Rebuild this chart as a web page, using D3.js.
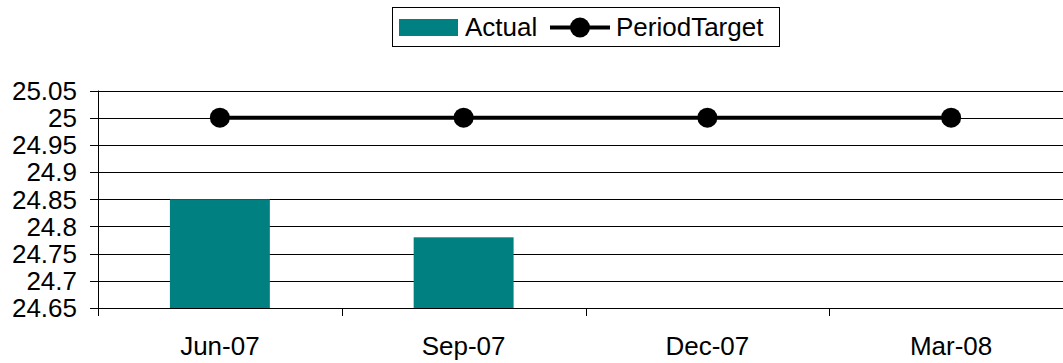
<!DOCTYPE html>
<html>
<head>
<meta charset="utf-8">
<script src="https://cdn.jsdelivr.net/npm/d3@7"></script>
<style>
html,body{margin:0;padding:0;background:#fff;overflow:hidden;}
svg{display:block;font-family:"Liberation Sans",Arial,sans-serif;}
</style>
</head>
<body>
<svg id="chart" width="1063" height="363"></svg>
<script>
const categories = ["Jun-07", "Sep-07", "Dec-07", "Mar-08"];
const actual = [24.85, 24.78, null, null];
const periodTarget = [25, 25, 25, 25];
const yTicks = [24.65, 24.7, 24.75, 24.8, 24.85, 24.9, 24.95, 25, 25.05];
const yTickLabels = ["24.65", "24.7", "24.75", "24.8", "24.85", "24.9", "24.95", "25", "25.05"];

(function () {
const svg = d3.select("#chart");
const pLeft = 98, pRight = 1073, pTop = 90.5, pBottom = 308;
const fs = 26;

const x = d3.scaleBand().domain(categories).range([pLeft, pRight]).padding(0);
const y = d3.scaleLinear().domain([24.65, 25.05]).range([pBottom, pTop]);
const barW = x.bandwidth() * 0.41;

const crisp = v => Math.round(v) + 0.5;

// gridlines + y ticks
const g = svg.append("g");
g.selectAll("line.grid").data(yTicks).join("line")
  .attr("x1", pLeft - 8).attr("x2", pRight)
  .attr("y1", d => crisp(y(d))).attr("y2", d => crisp(y(d)))
  .attr("stroke", "#000").attr("stroke-width", 1);

g.selectAll("text.ylab").data(yTicks).join("text")
  .attr("x", 77).attr("y", d => y(d))
  .attr("dy", "0.36em")
  .attr("text-anchor", "end")
  .attr("font-size", fs)
  .attr("fill", "#000")
  .text((d, i) => yTickLabels[i]);

// bars
svg.append("g").selectAll("rect").data(categories.map((c, i) => ({c, v: actual[i]})).filter(d => d.v != null))
  .join("rect")
  .attr("x", d => x(d.c) + (x.bandwidth() - barW) / 2)
  .attr("width", barW)
  .attr("y", d => y(d.v))
  .attr("height", d => y(24.65) - y(d.v))
  .attr("fill", "#008080");

// axes lines
svg.append("line").attr("x1", crisp(pLeft)).attr("x2", crisp(pLeft))
  .attr("y1", pTop).attr("y2", pBottom + 8).attr("stroke", "#000");
svg.append("line").attr("x1", pLeft).attr("x2", pRight)
  .attr("y1", crisp(pBottom)).attr("y2", crisp(pBottom)).attr("stroke", "#000");

// x ticks at category boundaries
const bounds = categories.map(c => x(c)).concat([pRight]);
svg.append("g").selectAll("line").data(bounds).join("line")
  .attr("x1", d => crisp(d)).attr("x2", d => crisp(d))
  .attr("y1", pBottom).attr("y2", pBottom + 8)
  .attr("stroke", "#000");

// x labels
svg.append("g").selectAll("text").data(categories).join("text")
  .attr("x", d => x(d) + x.bandwidth() / 2)
  .attr("y", 355)
  .attr("text-anchor", "middle")
  .attr("font-size", fs)
  .attr("fill", "#000")
  .text(d => d);

// target line
const pts = categories.map((c, i) => ({c, v: periodTarget[i]}));
svg.append("path").datum(pts)
  .attr("d", d3.line().x(d => x(d.c) + x.bandwidth() / 2).y(d => y(d.v)))
  .attr("fill", "none").attr("stroke", "#000").attr("stroke-width", 4);
svg.append("g").selectAll("circle").data(pts).join("circle")
  .attr("cx", d => x(d.c) + x.bandwidth() / 2)
  .attr("cy", d => y(d.v))
  .attr("r", 10).attr("fill", "#000");

// legend
const lg = svg.append("g");
lg.append("rect").attr("x", 392.5).attr("y", 7.5).attr("width", 387).attr("height", 39)
  .attr("fill", "#fff").attr("stroke", "#000").attr("stroke-width", 1);
lg.append("rect").attr("x", 399).attr("y", 19).attr("width", 59).attr("height", 17).attr("fill", "#008080");
lg.append("text").attr("x", 465).attr("y", 36).attr("font-size", fs).attr("fill", "#000").text("Actual");
lg.append("line").attr("x1", 550).attr("x2", 610).attr("y1", 27.5).attr("y2", 27.5)
  .attr("stroke", "#000").attr("stroke-width", 4);
lg.append("circle").attr("cx", 580).attr("cy", 27.5).attr("r", 10).attr("fill", "#000");
lg.append("text").attr("x", 616).attr("y", 36).attr("font-size", fs).attr("fill", "#000").text("PeriodTarget");
})();
</script>
</body>
</html>
